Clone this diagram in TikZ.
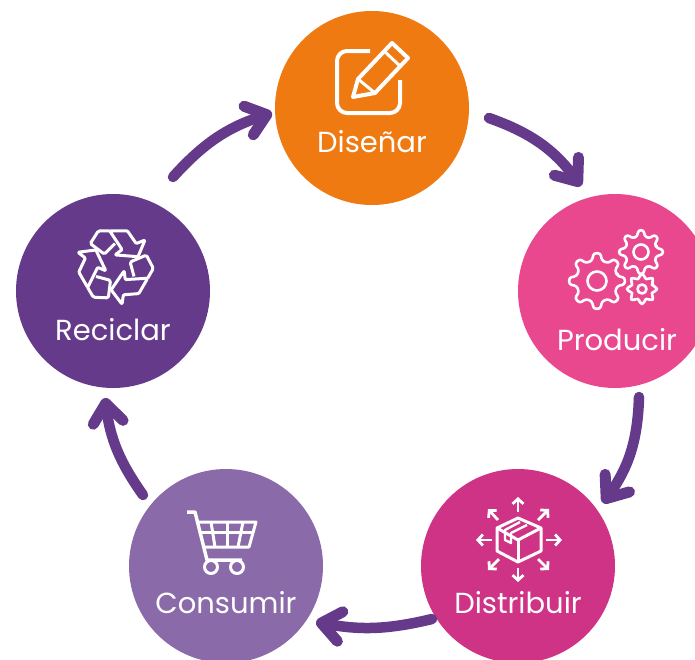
\documentclass[tikz,border=0pt]{standalone}
\usepackage{fontspec}
\usepackage{xcolor}
\usepackage{tikz}
\usetikzlibrary{arrows.meta}
\setmainfont{Poppins}

\definecolor{disenarcolor}{HTML}{EF7A12}
\definecolor{producircolor}{HTML}{E9488F}
\definecolor{distribuircolor}{HTML}{CF3386}
\definecolor{consumircolor}{HTML}{8A6AA9}
\definecolor{reciclarcolor}{HTML}{653A8B}

\tikzset{
  stepcircle/.style={circle, minimum size=194pt, inner sep=0pt, outer sep=0pt},
  steplabel/.style={text=white, anchor=base, inner sep=0pt, font=\fontsize{29}{34}\selectfont},
  flowarrow/.style={line width=10.5pt, line cap=round, reciclarcolor, -{Straight Barb[length=19pt, width=30pt, round, line width=11pt]}},
  iconline/.style={white, line width=3pt, line join=round},
  smallarrow/.style={white, line width=2.8pt, -{Straight Barb[length=5pt, width=11pt]}}
}

% one gear: x, y, root radius, tip radius
\newcommand{\gearicon}[4]{
  \begin{scope}[shift={(#1,#2)}]
    \draw[iconline, line width=2.6pt, rounded corners=2.5pt] (-13.5:#3)
      \foreach \tooth in {0,45,...,315} {
        -- (\tooth-13.5:#3) -- (\tooth-7:#4) -- (\tooth+7:#4) -- (\tooth+13.5:#3)
      } -- cycle;
  \end{scope}
}

\begin{document}
\begin{tikzpicture}[x=1pt, y=-1pt]
\useasboundingbox (0,0) rectangle (695,659);
\clip (0,0) rectangle (695,659);

% Circles
\node[stepcircle, fill=disenarcolor] (disenar) at (372,108) {};
\node[stepcircle, fill=producircolor] (producir) at (615,291) {};
\node[stepcircle, fill=distribuircolor] (distribuir) at (518,566) {};
\node[stepcircle, fill=consumircolor] (consumir) at (226,566) {};
\node[stepcircle, fill=reciclarcolor] (reciclar) at (113,291) {};

% Labels
\node[steplabel] (disenartext) at (372,152) {Diseñar};
\node[steplabel] (producirtext) at (617,350) {Producir};
\node[steplabel] (distribuirtext) at (518,613) {Distribuir};
\node[steplabel] (consumirtext) at (226,613) {Consumir};
\node[steplabel] (reciclartext) at (113,340) {Reciclar};

% Arrows for the cycle
\draw[flowarrow] ([shift={(117,10)}]disenar.center) to[bend left=17] ([shift={(-34,-105)}]producir.center);
\draw[flowarrow] ([shift={(24,106)}]producir.center) to[bend left=17] ([shift={(85,-63)}]distribuir.center);
\draw[flowarrow] ([shift={(-86,53)}]distribuir.center) to[bend left=12] ([shift={(90,56)}]consumir.center);
\draw[flowarrow] ([shift={(-83,-71)}]consumir.center) to[bend left=14] ([shift={(-8,107)}]reciclar.center);
\draw[flowarrow] ([shift={(60,-114)}]reciclar.center) to[bend left=15] ([shift={(-100,5)}]disenar.center);

% Pencil in a square
\draw[iconline, line width=4pt, rounded corners=10pt] (370,51) -- (337,51) -- (337,113) -- (400,113) -- (400,80);
\draw[iconline, line width=4pt] (353,97) -- (358,79) -- (392,43) -- (408,58) -- (375,93) -- cycle;
\draw[iconline, line width=3pt] (358,79) -- (375,93);
\draw[iconline, line width=3pt] (384,51) -- (400,66);

% Gears
\gearicon{597}{281}{21}{28}
\gearicon{641}{252}{16}{22}
\gearicon{642}{289}{11}{15}
\draw[iconline, line width=2.6pt] (597,281) circle (9.5);
\draw[iconline, line width=2.6pt] (641,252) circle (7.5);
\draw[iconline, line width=2.6pt] (642,289) circle (4.5);

% Box with arrows
\draw[iconline] (518,518) -- (541,528) -- (541,551) -- (518,562) -- (497,551) -- (497,528) -- cycle;
\draw[iconline] (497,528) -- (518,540) -- (541,528);
\draw[iconline] (518,540) -- (518,562);
\draw[iconline, line width=2.4pt] (520,522) -- (505,530) -- (505,540) -- (511,543) -- (511,533) -- (527,525);
\draw[smallarrow] (518,512) -- (518,497);
\draw[smallarrow] (518,568) -- (518,582);
\draw[smallarrow] (492,540) -- (476,540);
\draw[smallarrow] (546,540) -- (562,540);
\draw[smallarrow] (498,520) -- (488,509);
\draw[smallarrow] (538,520) -- (549,509);
\draw[smallarrow] (499,559) -- (488,570);
\draw[smallarrow] (538,559) -- (549,570);

% Cart
\draw[iconline, line width=3.5pt] (187,512) -- (195,512) -- (207,560) -- (242,560);
\draw[iconline] (198,522) -- (256,522) -- (249,547) -- (204,547);
\draw[iconline] (200,532) -- (253,532);
\draw[iconline] (211,522) -- (215,547);
\draw[iconline] (227,522) -- (227,547);
\draw[iconline] (243,522) -- (238,547);
\draw[iconline] (211,567) circle (6.5);
\draw[iconline] (237,567) circle (6.5);

% Recycling arrows
\foreach \rot in {0,120,240} {
  \begin{scope}[shift={(115,265.5)}, rotate=\rot, scale=1.06]
    \draw[iconline, rounded corners=1.5pt] (-5,-32.7) -- (-15.7,-32.7) -- (-23.3,-20.7) -- (-10,-10.7) -- (0,-20.7);
    \draw[iconline, rounded corners=1pt] (-5,-32.7) -- (11.7,-32.7) -- (20,-20.7) -- (28.3,-24) -- (21.7,-8.3) -- (0,-10) -- (6.7,-15) -- cycle;
  \end{scope}
}
\end{tikzpicture}
\end{document}
